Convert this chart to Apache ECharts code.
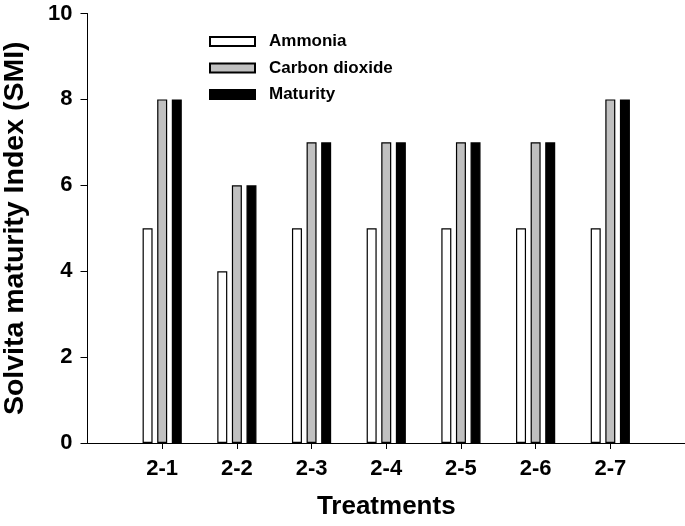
<!DOCTYPE html>
<html>
<head>
<meta charset="utf-8">
<script src="https://cdn.jsdelivr.net/npm/echarts@6/dist/echarts.min.js"></script>
<style>
html,body{margin:0;padding:0;background:#fff;}
#chart{width:685px;height:526px;}
</style>
</head>
<body>
<div id="chart"></div>
<script>
var categories = ['', '2-1', '2-2', '2-3', '2-4', '2-5', '2-6', '2-7', ''];
var ammonia = [null, 5, 4, 5, 5, 5, 5, 5, null];
var carbonDioxide = [null, 8, 6, 7, 7, 7, 7, 8, null];
var maturity = [null, 8, 6, 7, 7, 7, 7, 8, null];
var yTicks = [0, 2, 4, 6, 8, 10];

var FONT = "'Liberation Sans', Arial, sans-serif";
var chart = echarts.init(document.getElementById('chart'), null, {renderer: 'canvas'});
function realTick(i){ return i >= 1 && i <= 7; }
chart.setOption({
  animation: false,
  backgroundColor: '#fff',
  grid: {left: 87.5, top: 13.5, right: 0, bottom: 83, containLabel: false, outerBoundsMode: 'none'},
  legend: {
    orient: 'vertical', left: 204, top: 28, icon: 'rect',
    itemWidth: 45, itemHeight: 9, itemGap: 9.5,
    textStyle: {fontFamily: FONT, fontSize: 17, fontWeight: 'bold', color: '#000', padding: [0, 0, 0, 9]},
    data: ['Ammonia', 'Carbon dioxide', 'Maturity']
  },
  xAxis: {
    type: 'category', data: categories, boundaryGap: false,
    name: 'Treatments', nameLocation: 'middle', nameGap: 51,
    nameTextStyle: {fontFamily: FONT, fontSize: 26, fontWeight: 'bold', color: '#000'},
    axisLine: {lineStyle: {color: '#000', width: 1}},
    axisTick: {show: true, length: 6, interval: function(i){ return realTick(i); }, lineStyle: {color: '#000'}},
    axisLabel: {interval: function(i){ return realTick(i); }, margin: 15, fontFamily: FONT, fontSize: 22, fontWeight: 'bold', color: '#000'},
    splitLine: {show: false}
  },
  yAxis: {
    type: 'value', min: yTicks[0], max: yTicks[yTicks.length - 1], interval: 2,
    name: 'Solvita maturity Index (SMI)', nameLocation: 'middle', nameGap: 57.5,
    nameTextStyle: {fontFamily: FONT, fontSize: 28.5, fontWeight: 'bold', color: '#000'},
    axisLine: {show: true, lineStyle: {color: '#000', width: 1}},
    axisTick: {show: true, length: 7, lineStyle: {color: '#000'}},
    axisLabel: {margin: 15, fontFamily: FONT, fontSize: 22, fontWeight: 'bold', color: '#000'},
    splitLine: {show: false}
  },
  series: [
    {name: 'Ammonia', type: 'bar', data: ammonia, barWidth: 10, barGap: '46%',
     itemStyle: {color: '#ffffff', borderColor: '#000', borderWidth: 1.2}},
    {name: 'Carbon dioxide', type: 'bar', data: carbonDioxide, barWidth: 10, barGap: '46%',
     itemStyle: {color: '#c0c0c0', borderColor: '#000', borderWidth: 1.2}},
    {name: 'Maturity', type: 'bar', data: maturity, barWidth: 10, barGap: '46%',
     itemStyle: {color: '#000000', borderColor: '#000', borderWidth: 1.2}}
  ]
});
</script>
</body>
</html>
